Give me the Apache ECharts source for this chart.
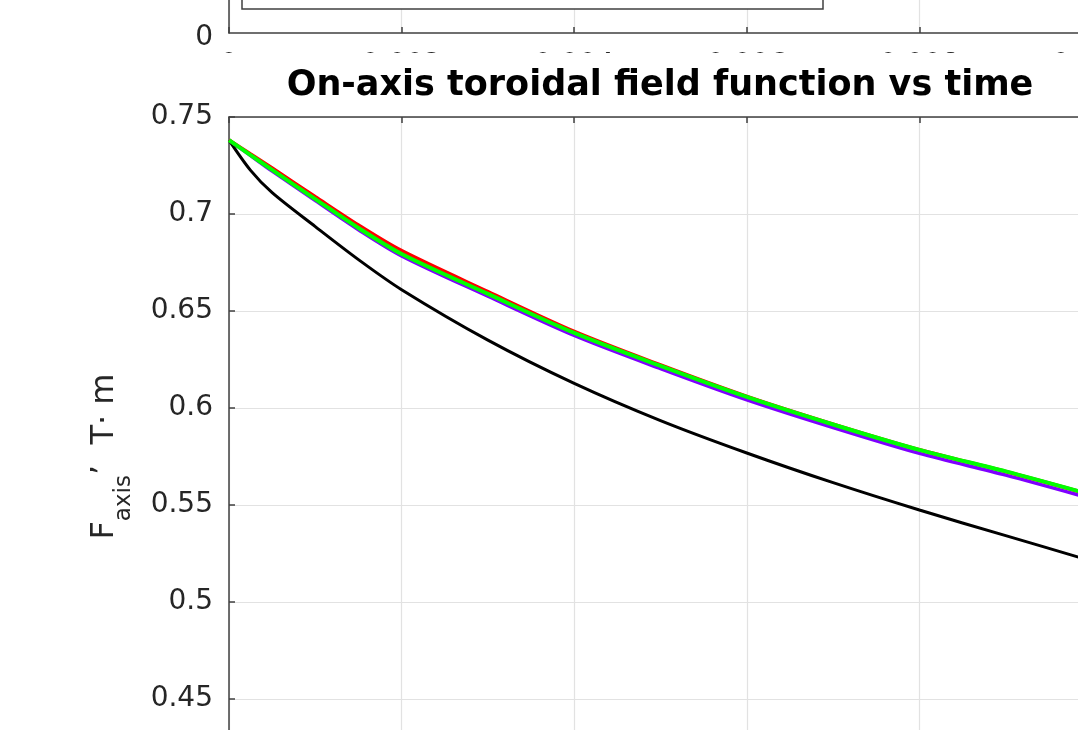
<!DOCTYPE html>
<html>
<head>
<meta charset="utf-8">
<script src="https://cdn.jsdelivr.net/npm/echarts@6/dist/echarts.min.js"></script>
<style>
html,body{margin:0;padding:0;background:#fff;}
#c{width:1078px;height:730px;}
</style>
</head>
<body>
<div id="c"></div>
<script>
// ---- data ----
var titleText = 'On-axis toroidal field function vs time';
var times = [0, 0.00025, 0.0005, 0.001, 0.0015, 0.002, 0.003, 0.004, 0.005, 0.006, 0.007, 0.008, 0.009, 0.01];
var blackVals  = [0.7381, 0.7225, 0.7110, 0.6935, 0.6765, 0.6610, 0.6350, 0.6127, 0.5935, 0.5768, 0.5615, 0.5474, 0.5342, 0.5211];
var redVals    = [0.7381, 0.7309, 0.7237, 0.7089, 0.6943, 0.6811, 0.6600, 0.6395, 0.6222, 0.6060, 0.5917, 0.5785, 0.5673, 0.5552];
var purpleVals = [0.7381, 0.7301, 0.7221, 0.7069, 0.6919, 0.6784, 0.6576, 0.6374, 0.6203, 0.6042, 0.5899, 0.5766, 0.5654, 0.5532];
var greenVals  = [0.7381, 0.7304, 0.7227, 0.7077, 0.6928, 0.6794, 0.6588, 0.6387, 0.6217, 0.6057, 0.5915, 0.5784, 0.5673, 0.5552];
var xTicks = {min: 0, max: 0.01, interval: 0.002};
var yTicks = {min: 0.4, max: 0.75, interval: 0.05};
var topY = {min: 0, max: 1, interval: 0.5};

function pairs(vals){ return times.map(function(t,i){ return [t, vals[i]]; }); }

var axisCol = '#404040';
var gridCol = '#e2e2e2';
var font = 'DejaVu Sans';

var chart = echarts.init(document.getElementById('c'), null, {renderer:'canvas'});
function lineSeries(name, vals, color, w){
  return {
    name: name, type: 'line', xAxisIndex: 0, yAxisIndex: 0,
    data: pairs(vals), showSymbol: false, symbol: 'none',
    smooth: 0.3,
    lineStyle: {color: color, width: w}, itemStyle: {color: color},
    animation: false, clip: true
  };
}
chart.setOption({
  backgroundColor: '#fff',
  animation: false,
  textStyle: {fontFamily: font},
  grid: [
    {left: 229, top: 117, right: -14, bottom: -66, containLabel: false, outerBoundsMode: 'none'},
    {left: 229, top: -300, right: -14, bottom: 697, containLabel: false, outerBoundsMode: 'none'}
  ],
  xAxis: [
    {gridIndex: 0, type: 'value', min: xTicks.min, max: xTicks.max, interval: xTicks.interval,
     axisLine: {show: true, onZero: false, lineStyle: {color: axisCol, width: 1.5}},
     axisTick: {show: true, inside: true, length: 6, lineStyle: {color: axisCol, width: 1.5}},
     axisLabel: {show: false},
     splitLine: {show: true, lineStyle: {color: gridCol, width: 1.2}}},
    {gridIndex: 0, type: 'value', position: 'top', min: xTicks.min, max: xTicks.max, interval: xTicks.interval,
     axisLine: {show: true, onZero: false, lineStyle: {color: axisCol, width: 1.5}},
     axisTick: {show: true, inside: true, length: 6, lineStyle: {color: axisCol, width: 1.5}},
     axisLabel: {show: false}, splitLine: {show: false}},
    {gridIndex: 1, type: 'value', min: xTicks.min, max: xTicks.max, interval: xTicks.interval,
     axisLine: {show: true, onZero: false, lineStyle: {color: axisCol, width: 1.5}},
     axisTick: {show: true, inside: true, length: 6, lineStyle: {color: axisCol, width: 1.5}},
     axisLabel: {show: true, margin: 19, fontSize: 28, color: '#262626', fontFamily: font,
       formatter: function(v){ return v === 0 ? '0' : v.toFixed(3); }},
     splitLine: {show: true, lineStyle: {color: gridCol, width: 1.2}}}
  ],
  yAxis: [
    {gridIndex: 0, type: 'value', min: yTicks.min, max: yTicks.max, interval: yTicks.interval,
     axisLine: {show: true, onZero: false, lineStyle: {color: axisCol, width: 1.5}},
     axisTick: {show: true, inside: true, length: 6, lineStyle: {color: axisCol, width: 1.5}},
     axisLabel: {show: true, margin: 16, fontSize: 28, color: '#262626', fontFamily: font,
       formatter: function(v){ return String(parseFloat(v.toFixed(2))); }},
     splitLine: {show: true, lineStyle: {color: gridCol, width: 1.2}},
     name: '{F|F}{sub|axis}{n|’  T· m}', nameLocation: 'middle', nameRotate: 90, nameGap: 108,
     nameTextStyle: {rich: {
       F: {fontSize: 32, color: '#262626', fontFamily: font},
       sub: {fontSize: 23, color: '#262626', fontFamily: font, verticalAlign: 'bottom', padding: [0,0,-15,0]},
       n: {fontSize: 32, color: '#262626', fontFamily: font}
     }}},
    {gridIndex: 1, type: 'value', min: topY.min, max: topY.max, interval: topY.interval,
     axisLine: {show: true, onZero: false, lineStyle: {color: axisCol, width: 1.5}},
     axisTick: {show: false},
     axisLabel: {show: true, margin: 16, fontSize: 28, color: '#262626', fontFamily: font,
       verticalAlign: 'top', lineHeight: 10},
     splitLine: {show: false}}
  ],
  series: [
    lineSeries('black', blackVals, '#000000', 3),
    lineSeries('purple', purpleVals, '#7f00ff', 3.5),
    lineSeries('red', redVals, '#ff0000', 3.5),
    lineSeries('green', greenVals, '#00ff00', 4)
  ],
  graphic: [
    {type: 'rect', z: 50, silent: true, shape: {x: 0, y: 53, width: 1078, height: 47}, style: {fill: '#ffffff'}},
    {type: 'rect', z: 60, silent: true, shape: {x: 242, y: -60, width: 581, height: 69},
     style: {fill: '#ffffff', stroke: '#404040', lineWidth: 1.5}},
    {type: 'text', z: 100, silent: true, style: {text: titleText, x: 660, y: 86, align: 'center', verticalAlign: 'middle',
      font: 'bold 35px "DejaVu Sans"', fill: '#000000'}}
  ]
});
</script>
</body>
</html>
